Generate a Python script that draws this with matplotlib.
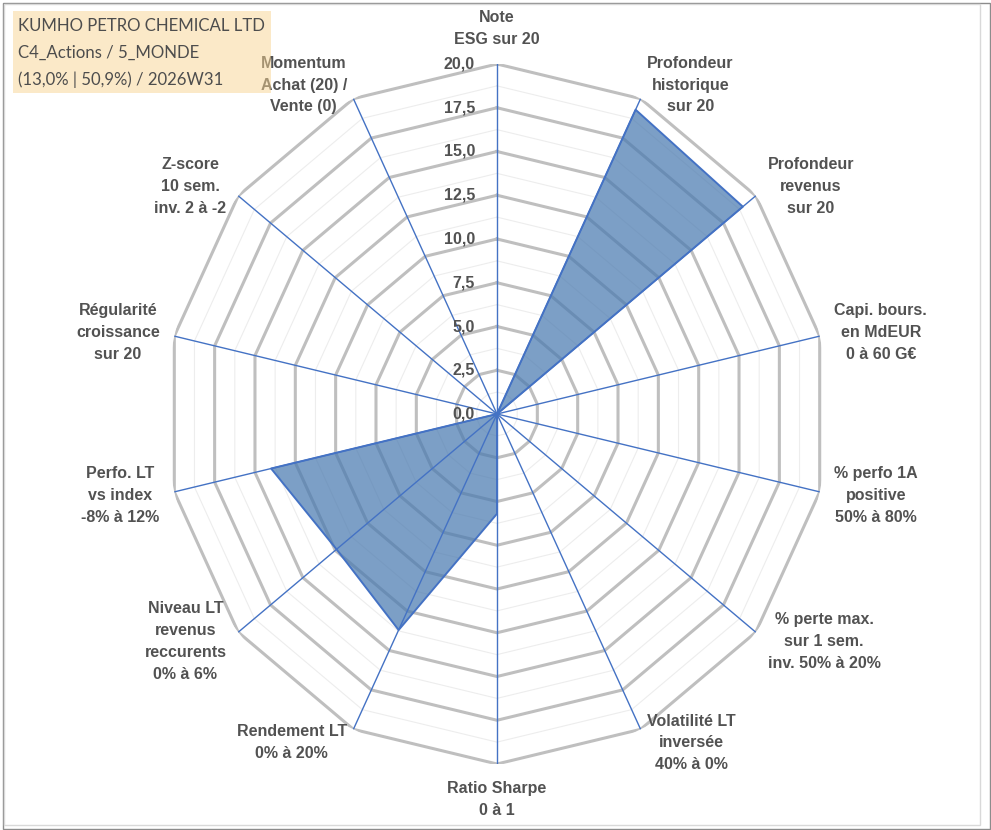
import matplotlib.pyplot as plt
import matplotlib.patches as mpatches
import numpy as np

# Radar chart - KUMHO PETRO CHEMICAL LTD
labels = [
    'Note\nESG sur 20',
    'Profondeur\nhistorique\nsur 20',
    'Profondeur\nrevenus\nsur 20',
    'Capi. bours.\nen MdEUR\n0 à 60 G€',
    '% perfo 1A\npositive\n50% à 80%',
    '% perte max.\nsur 1 sem.\ninv. 50% à 20%',
    'Volatilité LT\ninversée\n40% à 0%',
    'Ratio Sharpe\n0 à 1',
    'Rendement LT\n0% à 20%',
    'Niveau LT\nrevenus\nreccurents\n0% à 6%',
    'Perfo. LT\nvs index\n-8% à 12%',
    'Régularité\ncroissance\nsur 20',
    'Z-score\n10 sem.\ninv. 2 à -2',
    'Momentum\nAchat (20) /\nVente (0)',
]
scores = [0, 19.3, 19.0, 0, 0, 0, 0, 5.7, 13.7, 12.4, 14.0, 0, 0, 0]
ring_ticks = [0, 2.5, 5, 7.5, 10, 12.5, 15, 17.5, 20]
title_lines = ['KUMHO PETRO CHEMICAL LTD', 'C4_Actions / 5_MONDE', '(13,0% | 50,9%) / 2026W31']

W, H = 991, 830
fig = plt.figure(figsize=(W / 100, H / 100), dpi=100)
ax = fig.add_axes([166 / W, 66 / H, 662 / W, 700 / H], projection='polar')
ax.set_aspect('auto')
ax.set_theta_zero_location('N')
ax.set_theta_direction(-1)
ax.set_ylim(0, 20)
ax.set_xticks([])
ax.set_yticks([])
ax.grid(False)
ax.spines['polar'].set_visible(False)

n = len(labels)
angles = np.linspace(0, 2 * np.pi, n, endpoint=False)
closed = np.append(angles, angles[0])

gray_txt = '#525252'
lab_font = dict(family='Liberation Sans', fontweight='bold', fontsize=11.5, color=gray_txt)

# minor and major rings (polygons)
for r in np.arange(1.25, 20, 2.5):
    ax.plot(closed, [r] * (n + 1), color='#ededed', lw=0.8, zorder=1)
for r in ring_ticks[1:]:
    ax.plot(closed, [r] * (n + 1), color='#bfbfbf', lw=2.2, zorder=2)

# data area
vals = np.append(scores, scores[0])
ax.fill(closed, vals, facecolor='#4a7ab0', alpha=0.72, zorder=3)

# spokes
for a in angles:
    ax.plot([a, a], [0, 20], color='#4472c4', lw=1.0, zorder=4)

ax.plot(closed, vals, color='#4472c4', lw=1.4, zorder=5)

# radial value labels along the top spoke
for r in ring_ticks:
    ax.annotate(f'{r:.1f}'.replace('.', ','), xy=(0, r), xytext=(-22, 0),
                textcoords='offset pixels', ha='right', va='center',
                annotation_clip=False, zorder=6, **lab_font)

# category labels
for a, lab in zip(angles, labels):
    ux, uy = np.sin(a), np.cos(a)
    if abs(ux) < 0.05:
        ha, va = 'center', ('bottom' if uy > 0 else 'top')
        off = (0, 17 * uy)
    else:
        ha, va = ('left' if ux > 0 else 'right'), 'center'
        off = (15 * ux, 15 * uy)
    ax.annotate(lab, xy=(a, 20), xytext=off, textcoords='offset pixels',
                ha=ha, va=va, multialignment='center', linespacing=1.57,
                annotation_clip=False, zorder=6, **lab_font)

# title box (semi transparent, over the chart)
fig.patches.append(mpatches.Rectangle((13 / W, 1 - 93 / H), 258 / W, 82 / H,
                                      transform=fig.transFigure, facecolor='#f9d492',
                                      alpha=0.5, edgecolor='none', zorder=5))
for i, line in enumerate(title_lines):
    fig.text(18 / W, 1 - (26 + 27 * i) / H, line, ha='left', va='center',
             family='Lato', fontsize=12.1, color='#4d4d4d', zorder=6)

# chart frame
fig.patches.append(mpatches.Rectangle((3 / W, 1 / H), 987 / W, 826 / H,
                                      transform=fig.transFigure, fill=False,
                                      edgecolor='#8c8c8c', lw=1, zorder=0))
fig.patches.append(mpatches.Rectangle((4 / W, 5 / H), 976 / W, 821 / H,
                                      transform=fig.transFigure, fill=False,
                                      edgecolor='#d9d9d9', lw=1, zorder=0))

fig.savefig('out.png', dpi=100)
